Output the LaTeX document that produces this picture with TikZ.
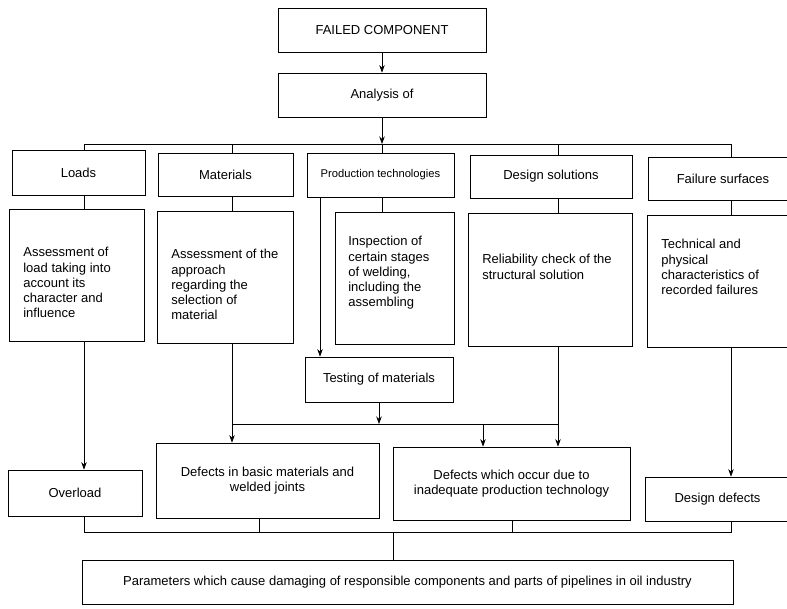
\documentclass[tikz,border=0pt]{standalone}
\usepackage{fontspec}
\setmainfont{Liberation Sans}
\usetikzlibrary{arrows.meta}
\newcommand\bodyfont{\fontsize{13}{15.3}\selectfont}
\newcommand\smallbodyfont{\fontsize{11.2}{13}\selectfont}
\tikzset{
  box/.style={draw, line width=0.7pt, inner sep=0pt, font=\bodyfont},
  txt/.style={anchor=north west, inner sep=0pt, align=left, font=\bodyfont},
  arr/.style={-{Stealth[length=7.5pt,width=5.5pt]}},
}
\begin{document}
\begin{tikzpicture}[x=1pt,y=-1pt,line width=0.7pt]
\clip (0,0) rectangle (787,609);
% top
\node[box,minimum width=208,minimum height=44] (fc) at (382,30) {FAILED COMPONENT};
\node[box,minimum width=208,minimum height=44] (an) at (382,95) {Analysis of};
% first row
\node[box,minimum width=133,minimum height=45] (lo) at (78.5,172.5) {Loads};
\node[box,minimum width=135,minimum height=43] (ma) at (225.5,174.5) {Materials};
\node[box,minimum width=147,minimum height=44,font=\smallbodyfont] (pt) at (380.5,175) {Production technologies};
\node[box,minimum width=162,minimum height=43] (ds) at (551,176.5) {Design solutions};
\node[box,minimum width=150,minimum height=43] (fs) at (723,178.5) {Failure surfaces};
% second row
\node[box,minimum width=135,minimum height=132] (la) at (76.5,275) {};
\node[txt] (lat) at (23,247) {Assessment of\\load taking into\\account its\\character and\\influence};
\node[box,minimum width=136,minimum height=132] (mb) at (225,277) {};
\node[txt] (mbt) at (171,249) {Assessment of the\\approach\\regarding the\\selection of\\material};
\node[box,minimum width=119,minimum height=132] (ib) at (394.5,278) {};
\node[txt] (ibt) at (348,236) {Inspection of\\certain stages\\of welding,\\including the\\assembling};
\node[box,minimum width=164,minimum height=133] (rb) at (550,279.5) {};
\node[txt] (rbt) at (482,254) {Reliability check of the\\structural solution};
\node[box,minimum width=151,minimum height=132] (tb) at (722.5,281) {};
\node[txt] (tbt) at (661,239) {Technical and\\physical\\characteristics of\\recorded failures};
\node[box,minimum width=148,minimum height=45] (te) at (379,379.5) {Testing of materials};
% third row
\node[box,minimum width=134,minimum height=46] (ov) at (75,493) {Overload};
\node[box,minimum width=223,minimum height=75,align=center] (db) at (267.5,480.5) {Defects in basic materials and\\welded joints};
\node[box,minimum width=237,minimum height=73,align=center] (dt) at (511.5,483.5) {Defects which occur due to\\inadequate production technology};
\node[box,minimum width=145,minimum height=44] (dd) at (717.5,499) {Design defects};
% bottom
\node[box,minimum width=651,minimum height=44] (pa) at (407.5,582) {Parameters which cause damaging of responsible components and parts of pipelines in oil industry};
% columns and buses
\coordinate (cL) at (84,144);
\coordinate (cM) at (232,144);
\coordinate (busA) at (382,144);
\coordinate (cD) at (558,144);
\coordinate (cF) at (731,144);
\coordinate (cT) at (320,0);
\coordinate (busB) at (379,424);
\coordinate (cX) at (483,424);
\coordinate (busC) at (393,532);
\coordinate (cB) at (259,532);
\coordinate (cE) at (512,532);
% connectors
\draw[arr] (fc) -- (an);
\draw[arr] (an) -- (busA);
\draw (lo.north -| cL) -- (cL) -- (cF) -- (fs.north -| cF);
\draw (ma.north -| cM) -- (cM);
\draw (pt.north -| busA) -- (busA);
\draw (ds.north -| cD) -- (cD);
\draw (lo.south -| cL) -- (la.north -| cL);
\draw (ma.south -| cM) -- (mb.north -| cM);
\draw (pt.south -| busA) -- (ib.north -| busA);
\draw (ds.south -| cD) -- (rb.north -| cD);
\draw (fs.south -| cF) -- (tb.north -| cF);
\draw[arr] (pt.south -| cT) -- (te.north -| cT);
\draw[arr] (la.south -| cL) -- (ov.north -| cL);
\draw[arr] (mb.south -| cM) -- (db.north -| cM);
\draw[arr] (rb.south -| cD) -- (dt.north -| cD);
\draw[arr] (tb.south -| cF) -- (dd.north -| cF);
\draw[arr] (te.south) -- (busB);
\draw (cM |- busB) -- (cD |- busB);
\draw[arr] (cX) -- (dt.north -| cX);
\draw (ov.south -| cL) -- (cL |- busC) -- (cF |- busC) -- (dd.south -| cF);
\draw (db.south -| cB) -- (cB);
\draw (dt.south -| cE) -- (cE);
\draw (busC) -- (pa.north -| busC);
\end{tikzpicture}
\end{document}
